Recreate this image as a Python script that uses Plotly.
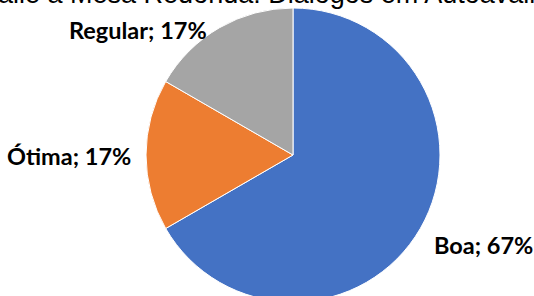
import plotly.graph_objects as go

categories = ["Boa", "Ótima", "Regular"]
values = [4, 1, 1]
colors = ["#4472C4", "#ED7D31", "#A5A5A5"]
title_text = "Avalie a Mesa Redonda: Diálogos em Autoavaliação"

W, H = 534, 310

# pie geometry in screen pixels (center x, center y, radius)
cx, cy, r = 293, 155, 147

fig = go.Figure()
fig.add_trace(go.Pie(
    labels=categories,
    values=values,
    sort=False,
    direction="clockwise",
    rotation=0,
    marker=dict(colors=colors, line=dict(color="white", width=1)),
    textinfo="none",
    hoverinfo="label+percent",
    showlegend=False,
    domain=dict(x=[(cx - r) / W, (cx + r) / W],
                y=[(H - cy - r) / H, (H - cy + r) / H]),
))

total = sum(values)
pcts = [round(v / total * 100) for v in values]
label_pos = {
    "Boa": (483, 245),
    "Ótima": (69, 156),
    "Regular": (138, 30),
}
for cat, p in zip(categories, pcts):
    px, py = label_pos[cat]
    fig.add_annotation(
        text=f"<b>{cat}; {p}%</b>",
        x=px / W, y=1 - py / H, xref="paper", yref="paper",
        xanchor="center", yanchor="middle", showarrow=False,
        font=dict(family="Lato, Carlito, Calibri, sans-serif", size=23.5, color="#000000"),
    )

fig.add_annotation(
    text=title_text,
    x=0, y=1, xref="paper", yref="paper",
    xanchor="left", yanchor="bottom", xshift=-35, yshift=-11, showarrow=False,
    font=dict(family="Liberation Sans, Arial, sans-serif", size=27, color="#000000"),
)

fig.update_layout(
    width=W, height=H,
    margin=dict(l=0, r=0, t=0, b=0),
    paper_bgcolor="white",
    plot_bgcolor="white",
)

fig.write_html("out.html", config={"displayModeBar": False},
               post_script="document.body.style.margin='0px';")
